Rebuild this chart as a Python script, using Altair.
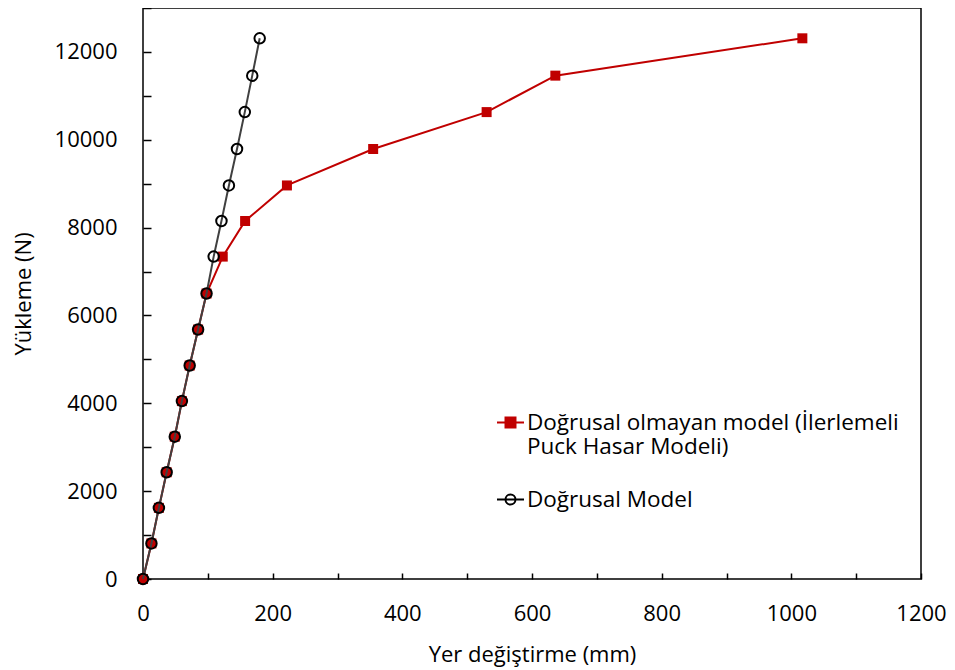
import altair as alt
import pandas as pd

# ---- data ----
S1 = "Doğrusal olmayan model (İlerlemeli Puck Hasar Modeli)"
S2 = "Doğrusal Model"

loads = [0, 810, 1620, 2430, 3240, 4050, 4860, 5680, 6500, 7340, 8150, 8960, 9790, 10630, 11460, 12310]
nonlinear_x = [0, 13, 24.5, 36.5, 49, 60, 72, 85, 98, 123, 157.5, 222, 355, 530, 636, 1017]
linear_x = [0, 13, 24.5, 36.5, 49, 60, 72, 85, 98, 109, 121, 132.5, 145, 157, 168.5, 180]

x_ticks = list(range(0, 1201, 100))
y_ticks = list(range(0, 13001, 1000))

RED = "#C00000"
FONT = "Open Sans"

rows = [{"series": S1, "x": a, "y": b} for a, b in zip(nonlinear_x, loads)]
rows += [{"series": S2, "x": a, "y": b} for a, b in zip(linear_x, loads)]
df = pd.DataFrame(rows)

xscale = alt.Scale(domain=[0, 1200], nice=False, zero=False)
yscale = alt.Scale(domain=[0, 13000], nice=False, zero=False)

xaxis = alt.Axis(values=x_ticks, labelExpr="datum.value % 200 == 0 ? datum.label : ''",
                 format="d", grid=False, domain=False, tickSize=6, offset=-6,
                 tickColor="black", tickWidth=1.5, labelPadding=24, labelFlush=False,
                 labelOverlap=False, title="Yer değiştirme (mm)", titlePadding=20)
yaxis = alt.Axis(values=y_ticks, labelExpr="datum.value % 2000 == 0 ? datum.label : ''",
                 format="d", grid=False, domain=False, tickSize=8, offset=-8,
                 tickColor="black", tickWidth=1.5, labelPadding=26, labelFlush=False,
                 labelOverlap=False, title="Yükleme (N)", titlePadding=19)

base = alt.Chart(df)
X = alt.X("x:Q", scale=xscale, axis=xaxis)
Y = alt.Y("y:Q", scale=yscale, axis=yaxis)

red_line = base.transform_filter(alt.datum.series == S1).mark_line(
    color=RED, strokeWidth=2).encode(x=X, y=Y)
red_pts = base.transform_filter(alt.datum.series == S1).mark_point(
    shape="square", filled=True, color=RED, size=100, opacity=1).encode(x=X, y=Y)
blk_line = base.transform_filter(alt.datum.series == S2).mark_line(
    color="#404040", strokeWidth=2).encode(x=X, y=Y)
blk_pts = base.transform_filter(alt.datum.series == S2).mark_point(
    shape="circle", filled=False, color="black", strokeWidth=2, size=110, opacity=1).encode(x=X, y=Y)

sq_path = "M-1,0H1M-0.37,-0.37H0.37V0.37H-0.37Z"
ci_path = "M-1,0H1M0.37,0A0.37,0.37 0 1,1 -0.37,0A0.37,0.37 0 1,1 0.37,0Z"

legend = alt.Legend(title=None, orient="none", legendX=353, legendY=400,
                    symbolSize=729, labelFont=FONT, labelFontSize=22.5, labelColor="black",
                    labelLimit=600, labelOffset=2, rowPadding=26, padding=0,
                    symbolStrokeWidth=2,
                    labelExpr=f"datum.label == '{S1}' ? ['Doğrusal olmayan model (İlerlemeli', 'Puck Hasar Modeli)'] : datum.label")

leg_layer = base.transform_filter("false").mark_point(filled=True, strokeWidth=2, opacity=1).encode(
    x=X, y=Y,
    shape=alt.Shape("series:N", scale=alt.Scale(domain=[S1, S2], range=[sq_path, ci_path]), legend=legend),
    fill=alt.Fill("series:N", scale=alt.Scale(domain=[S1, S2], range=[RED, "transparent"]), legend=legend),
    stroke=alt.Stroke("series:N", scale=alt.Scale(domain=[S1, S2], range=[RED, "black"]), legend=legend),
)

chart = alt.layer(red_line, red_pts, blk_line, blk_pts, leg_layer).properties(
    width=778, height=571,
    background="white",
    autosize=alt.AutoSizeParams(type="none"),
    padding={"left": 135, "top": 0, "right": 26, "bottom": 88},
).configure_view(stroke="black", strokeWidth=1.5).configure_axis(
    labelFont=FONT, labelFontSize=22, labelColor="black",
    titleFont=FONT, titleFontSize=22, titleFontWeight="normal", titleColor="black",
)

chart.save("out.html", embed_options={"renderer": "svg", "actions": False})
